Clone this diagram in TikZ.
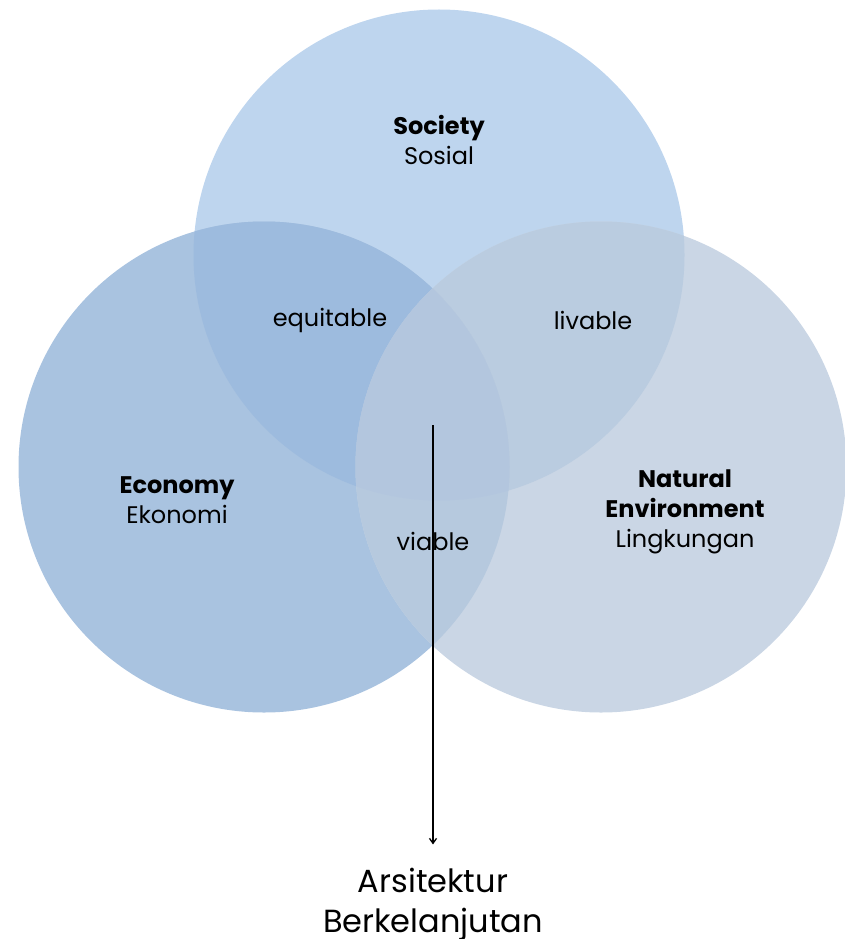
\documentclass[tikz,border=0pt]{standalone}
\usepackage{fontspec}
\setmainfont{Poppins}
\usetikzlibrary{arrows.meta}
\definecolor{cT}{HTML}{BED5EE}
\definecolor{cL}{HTML}{A9C3E0}
\definecolor{cR}{HTML}{CAD6E5}
\definecolor{cTL}{HTML}{9DBBDE}
\definecolor{cTR}{HTML}{BACCE0}
\definecolor{cLR}{HTML}{B6C9DE}
\definecolor{cTLR}{HTML}{B3C6DE}
\tikzset{
  lbl/.style={font=\fontsize{24}{30}\selectfont, text=black, inner sep=0pt, align=center},
  res/.style={font=\fontsize{32}{40}\selectfont, text=black, inner sep=0pt, align=center},
  arr/.style={line width=1.3pt, -{Straight Barb[length=5pt,width=7pt]}}
}
\begin{document}
\begin{tikzpicture}[x=1pt,y=-1pt]
\useasboundingbox (0,0) rectangle (845,939);
\coordinate (T) at (439,255);
\coordinate (L) at (264,467);
\coordinate (R) at (601,467);
\def\rad{245.5}
\fill[cT] (T) circle (\rad);
\fill[cL] (L) circle (\rad);
\fill[cR] (R) circle (\rad);
\begin{scope}
  \clip (T) circle (\rad);
  \fill[cTL] (L) circle (\rad);
  \fill[cTR] (R) circle (\rad);
\end{scope}
\begin{scope}
  \clip (L) circle (\rad);
  \fill[cLR] (R) circle (\rad);
\end{scope}
\begin{scope}
  \clip (T) circle (\rad);
  \clip (L) circle (\rad);
  \fill[cTLR] (R) circle (\rad);
\end{scope}
\node[lbl] (soc) at (439,140) {\textbf{Society}\\Sosial};
\node[lbl] (eco) at (177,500) {\textbf{Economy}\\Ekonomi};
\node[lbl] (env) at (685,512) {\textbf{Natural}\\\textbf{Environment}\\Lingkungan};
\node[lbl] (eq) at (330,320) {equitable};
\node[lbl] (liv) at (593,320) {livable};
\node[lbl] (via) at (433,541) {viable};
\node[res] (out) at (433,904) {Arsitektur\\Berkelanjutan};
\coordinate (start) at (433,425);
\draw[arr] (start) -- ([yshift=23pt]out.north);
\end{tikzpicture}
\end{document}
